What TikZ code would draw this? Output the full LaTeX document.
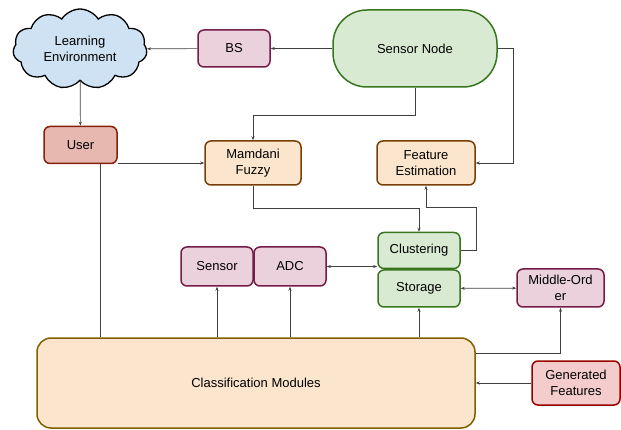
\documentclass[tikz,border=0pt]{standalone}
\usepackage{fontspec}
\setmainfont{Liberation Sans}
\usetikzlibrary{shapes.symbols,arrows.meta}
\definecolor{cloudfill}{HTML}{CFE2F3}
\definecolor{pinkfill}{HTML}{EAD1DC}
\definecolor{pinkline}{HTML}{741B47}
\definecolor{greenfill}{HTML}{D9EAD3}
\definecolor{greenline}{HTML}{38761D}
\definecolor{orangefill}{HTML}{FCE5CD}
\definecolor{brownline}{HTML}{783F04}
\definecolor{oliveline}{HTML}{7F6000}
\definecolor{userfill}{HTML}{E6B8AF}
\definecolor{userline}{HTML}{85200C}
\definecolor{redfill}{HTML}{F4CCCC}
\definecolor{redline}{HTML}{990000}
\definecolor{wire}{HTML}{404040}
\tikzset{
  box/.style={rectangle, rounded corners=6pt, line width=1.5pt, align=center,
    inner sep=2pt, font=\fontsize{13}{16}\selectfont},
  pinkbox/.style={box, draw=pinkline, fill=pinkfill},
  greenbox/.style={box, draw=greenline, fill=greenfill},
  orangebox/.style={box, draw=brownline, fill=orangefill},
  userbox/.style={box, draw=userline, fill=userfill},
  redbox/.style={box, draw=redline, fill=redfill},
  arr/.style={draw=wire, line width=0.7pt, -{Stealth[length=4pt,width=3pt]}},
  dblarr/.style={draw=wire, line width=0.7pt, {Stealth[length=4pt,width=3pt]}-{Stealth[length=4pt,width=3pt]}},
  wireline/.style={draw=wire, line width=0.7pt}
}
\begin{document}
\begin{tikzpicture}[x=1pt,y=-1pt]
  \useasboundingbox (0,0) rectangle (621,430);

  % top row
  \node[cloud, cloud puffs=11, cloud puff arc=115, cloud ignores aspect, draw=black, fill=cloudfill,
        line width=1.3pt, minimum width=134pt, minimum height=80pt, align=center, inner sep=0pt,
        font=\fontsize{13}{16}\selectfont] (env) at (80,49) {Learning\\Environment};
  \node[pinkbox, minimum width=72pt, minimum height=37pt] (bs) at (234,48.5) {BS};
  \node[greenbox, rounded corners=34pt, minimum width=164pt, minimum height=77pt] (sensnode) at (415,48.5) {Sensor Node};

  % second row
  \node[userbox, minimum width=73pt, minimum height=37pt] (user) at (80.5,145) {User};
  \node[orangebox, minimum width=96pt, minimum height=44pt] (mamdani) at (253,163) {Mamdani\\Fuzzy};
  \node[orangebox, minimum width=98pt, minimum height=44pt] (feature) at (426,163) {Feature\\Estimation};

  % middle row
  \node[greenbox, minimum width=82pt, minimum height=36pt] (clust) at (419,250.5) {Clustering};
  \node[greenbox, minimum width=82pt, minimum height=37pt] (storage) at (419,288.5) {Storage};
  \node[pinkbox, minimum width=72pt, minimum height=39pt] (sensor) at (217,266.5) {Sensor};
  \node[pinkbox, minimum width=72pt, minimum height=39pt] (adc) at (290,266.5) {ADC};
  \node[pinkbox, minimum width=87pt, minimum height=38pt] (middle) at (560.5,288) {Middle-Ord\\er};

  % bottom row
  \node[box, rounded corners=14pt, draw=oliveline, fill=orangefill, minimum width=438pt,
        minimum height=90pt] (classif) at (256,383) {Classification Modules};
  \node[redbox, minimum width=88pt, minimum height=44pt] (generated) at (576,383) {Generated\\Features};

  % connectors
  \draw[arr] (sensnode) -- (bs);
  \draw[arr] (bs) -- (env);
  \draw[arr] (env) -- (user);
  \draw[arr] (mamdani.west -| user.east) -- (mamdani.west);
  \draw[arr] (sensnode.south) -- ++(0,28) -| (mamdani.north);
  \draw[arr] (sensnode.east) -- ++(16,0) |- (feature.east);
  \draw[arr] (mamdani.south) -- ++(0,23) -| (clust.north);
  \draw[arr] (clust.east) -- ++(16,0) -- ++(0,-43) -| (feature.south);
  \draw[dblarr] (adc.east) -- (adc.east -| clust.west);
  \draw[dblarr] (storage) -- (middle);
  \coordinate (userfoot) at ([xshift=19.5pt]user.south);
  \draw[wireline] (userfoot) -- (userfoot |- classif.north);
  \draw[arr] (sensor.south |- classif.north) -- (sensor.south);
  \draw[arr] (adc.south |- classif.north) -- (adc.south);
  \draw[arr] (storage.south |- classif.north) -- (storage.south);
  \draw[arr] ([yshift=30pt]classif.east) -| (middle.south);
  \draw[arr] (generated) -- (classif);
\end{tikzpicture}
\end{document}
